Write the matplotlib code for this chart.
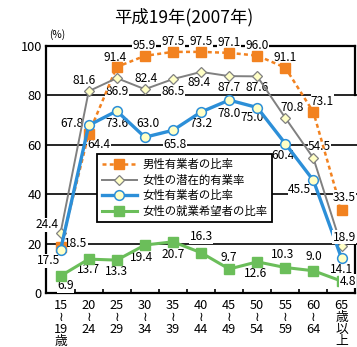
import matplotlib
matplotlib.use("Agg")
import matplotlib.pyplot as plt

# ---- data ----
age_groups = ["15\n≀\n19\n歳", "20\n≀\n24", "25\n≀\n29", "30\n≀\n34", "35\n≀\n39",
              "40\n≀\n44", "45\n≀\n49", "50\n≀\n54", "55\n≀\n59", "60\n≀\n64", "65\n歳\n以\n上"]
male_employed = [18.5, 64.4, 91.4, 95.9, 97.5, 97.5, 97.1, 96.0, 91.1, 73.1, 33.5]
female_potential = [24.4, 81.6, 86.9, 82.4, 86.5, 89.4, 87.7, 87.6, 70.8, 54.5, 18.9]
female_employed = [17.5, 67.8, 73.6, 63.0, 65.8, 73.2, 78.0, 75.0, 60.4, 45.5, 14.1]
female_want_work = [6.9, 13.7, 13.3, 19.4, 20.7, 16.3, 9.7, 12.6, 10.3, 9.0, 4.8]
series_names = ["男性有業者の比率", "女性の潜在的有業率", "女性有業者の比率", "女性の就業希望者の比率"]
y_ticks = [0, 20, 40, 60, 80, 100]
title = "平成19年(2007年)"

# ---- label offsets (pixels); None marks a label pinned to the right edge ----
male_off = [(15, 4), (10, -11), (-2, 9), (-1, 10), (0, 10), (0, 10), (0, 10), (0, 10), (0, 10), (9, 11), None]
pot_off = [(-14, 8), (-5, 11), (0, -13), (1, 11), (0, -12), (-2, -11), (0, -11), (0, -11), (7, 10), (6, 12), None]
emp_off = [(-12, -11), (-17, 2), (0, -13), (3, 14), (2, -14), (0, -12), (0, -13), (-5, -10), (-2, -12), (-14, -9), (0, -11)]
want_off = [(5, -10), (0, -10), (0, -11), (-3, -12), (0, -13), (0, 16), (0, 12), (-2, -12), (-3, 13), (0, 14), None]
edge_dy = {"male": 13, "pot": 9, "want": 0}

CJK = ["Noto Sans CJK JP", "DejaVu Sans"]
NARROW = ["Liberation Sans Narrow", "Noto Sans CJK JP", "DejaVu Sans"]

c_orange = "#F28220"
c_gray = "#808080"
c_blue = "#2C8FD8"
c_green = "#6BBE5A"
c_fill = "#FFFFC6"

W, H = 357, 347
fig = plt.figure(figsize=(W / 100, H / 100), dpi=100)
ax = fig.add_axes([46 / W, 1 - 293 / H, 309 / W, (293 - 45.7) / H])

x = list(range(len(age_groups)))
ax.set_xlim(-0.52, 10.48)
ax.set_ylim(0, 100)

for gy in y_ticks[1:-1]:
    ax.axhline(gy, color="black", lw=1.2, zorder=1, xmax=1.01, clip_on=False)

l_male, = ax.plot(x, male_employed, color=c_orange, lw=1.8, ls=(0, (1.6, 1.3)),
                  marker="s", ms=6.5, mfc=c_orange, mec=c_orange, zorder=4)
l_pot, = ax.plot(x, female_potential, color=c_gray, lw=1.4,
                 marker="D", ms=4.6, mfc=c_fill, mec=c_gray, mew=0.9, zorder=5)
l_emp, = ax.plot(x, female_employed, color=c_blue, lw=2.4,
                 marker="o", ms=7.0, mfc=c_fill, mec=c_blue, mew=1.1, zorder=6)
l_want, = ax.plot(x, female_want_work, color=c_green, lw=2.2,
                  marker="s", ms=6.5, mfc=c_green, mec=c_green, zorder=4)

label_style = dict(fontsize=8.6, family=NARROW, annotation_clip=False,
                   bbox=dict(facecolor="white", edgecolor="none", pad=0.3))


def put_labels(values, offsets, key=None):
    for xi, v, off in zip(x, values, offsets):
        if off is None:
            # keep the last label inside the figure: right-aligned at its edge
            ax.annotate(f"{v:.1f}", (1, v), xycoords=("figure fraction", "data"),
                        xytext=(-1, edge_dy[key]), textcoords="offset pixels",
                        ha="right", va="center", zorder=8, **label_style)
        else:
            ax.annotate(f"{v:.1f}", (xi, v), xytext=off, textcoords="offset pixels",
                        ha="center", va="center", zorder=3, **label_style)


put_labels(male_employed, male_off, "male")
put_labels(female_potential, pot_off, "pot")
put_labels(female_employed, emp_off)
put_labels(female_want_work, want_off, "want")

# frame
for side in ("left", "top", "bottom"):
    ax.spines[side].set_linewidth(1.6)
    ax.spines[side].set_zorder(2)
ax.spines["right"].set_visible(False)
for y0, y1 in ((80, 100), (0, 20)):
    ax.plot([1, 1], [y0, y1], transform=ax.get_yaxis_transform(), color="black",
            lw=1.6, clip_on=False, zorder=2)

ax.set_yticks(y_ticks)
ax.set_yticklabels([str(t) for t in y_ticks], family=CJK, fontsize=9.2)
ax.tick_params(axis="y", length=0, pad=3)

ax.set_xticks(x)
ax.set_xticklabels(age_groups, family=CJK, fontsize=9.2, linespacing=0.93, va="top")
ax.tick_params(axis="x", which="major", length=0, pad=4)
ax.set_xticks([i + 0.5 for i in x[:-1]], minor=True)
ax.tick_params(axis="x", which="minor", direction="in", length=3.2, width=1.2)

ax.text(0.01, 102.3, "(%)", transform=ax.get_yaxis_transform(), fontsize=7.3,
        family=CJK, ha="left", va="bottom")

fig.text(183.5 / W, 1 - 17 / H, title, family=CJK, fontsize=12.5, ha="center", va="center")

leg = ax.legend([l_male, l_pot, l_emp, l_want], series_names, loc="upper left",
                bbox_to_anchor=(0.165, 0.562), borderaxespad=0, prop={"family": CJK, "size": 8.2},
                handlelength=3.1, handletextpad=0.5, labelspacing=0.42, borderpad=0.4,
                fancybox=False, framealpha=1, edgecolor="black", numpoints=1)
leg.get_frame().set_linewidth(1.3)
leg.set_zorder(7)

fig.savefig("out.png", dpi=100)
